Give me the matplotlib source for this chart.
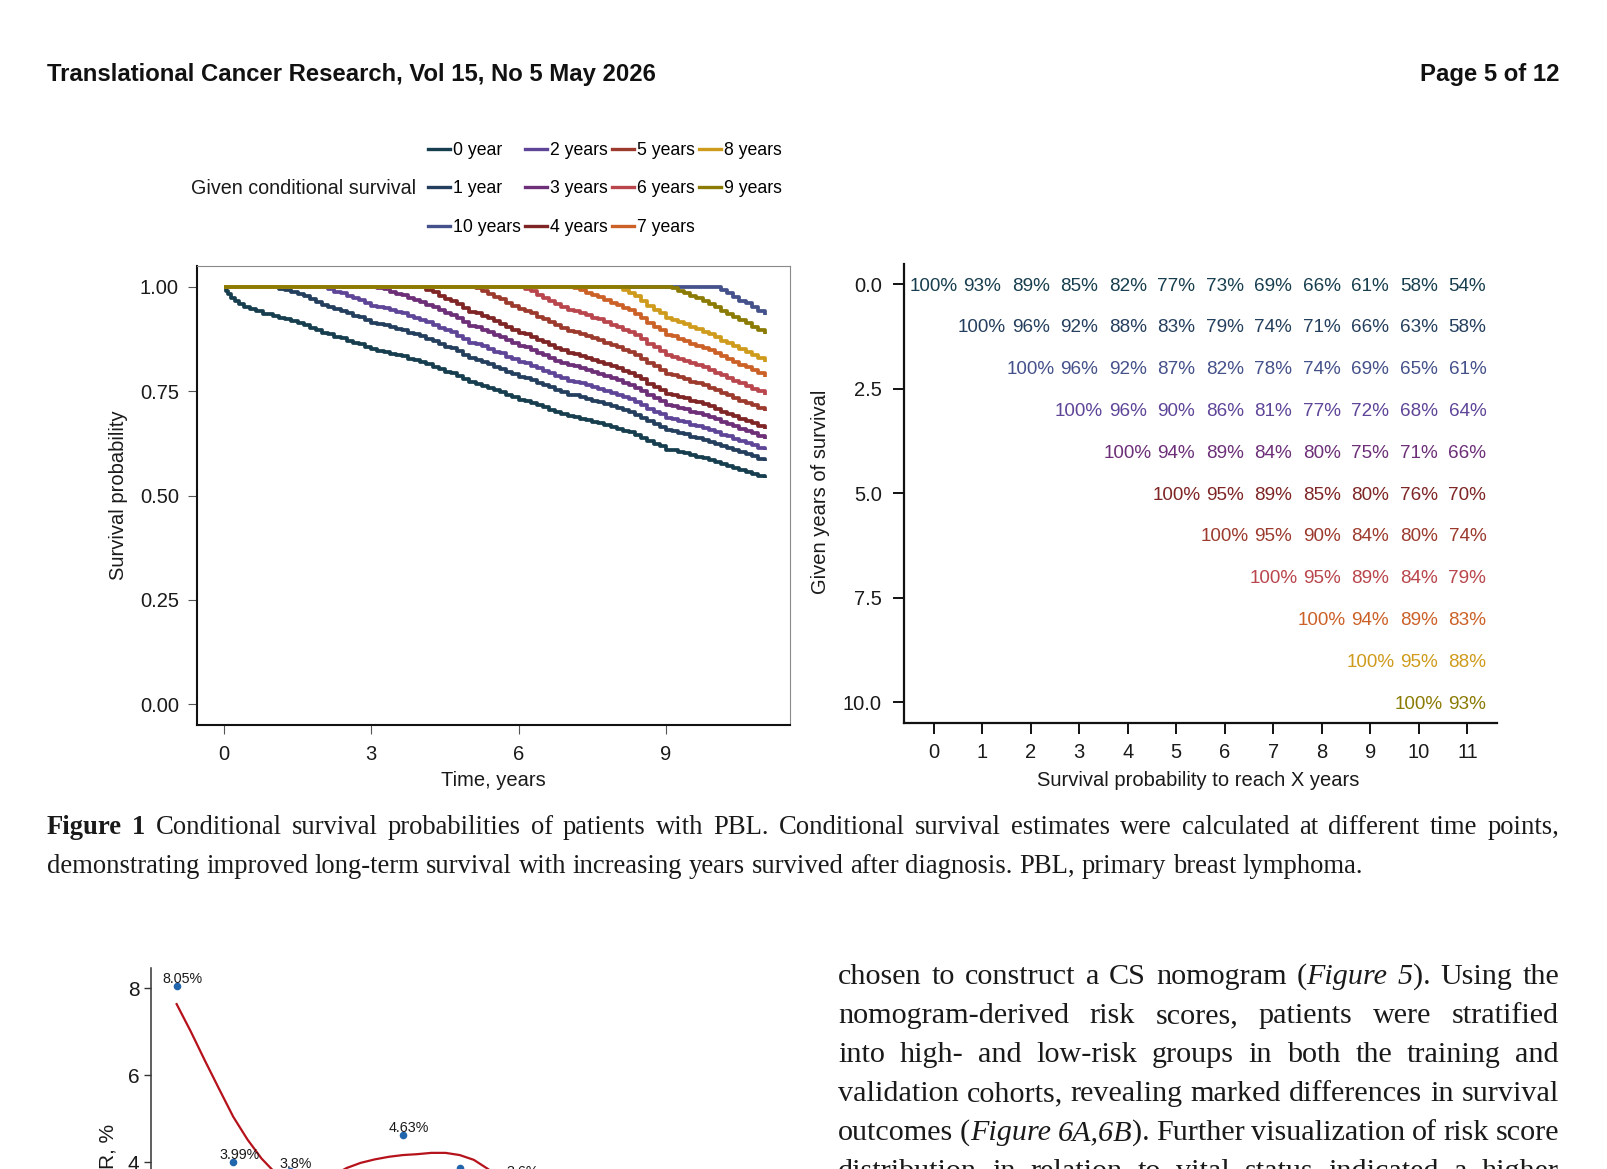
import numpy as np
import matplotlib
matplotlib.use('Agg')
import matplotlib.pyplot as plt
from matplotlib.lines import Line2D

W, H, DPI = 1607, 1169, 100

# ---------------- data ----------------
base_time = [0.00, 0.04, 0.08, 0.14, 0.22, 0.30, 0.40, 0.52, 0.65, 0.80, 0.90, 1.00,
             1.125, 1.25, 1.375, 1.50, 1.625, 1.75, 1.875, 2.00,
             2.125, 2.25, 2.375, 2.50, 2.625, 2.75, 2.875, 3.00,
             3.125, 3.25, 3.375, 3.50, 3.625, 3.75, 3.875, 4.00,
             4.125, 4.25, 4.375, 4.50, 4.625, 4.75, 4.875, 5.00,
             5.125, 5.25, 5.375, 5.50, 5.625, 5.75, 5.875, 6.00,
             6.125, 6.25, 6.375, 6.50, 6.625, 6.75, 6.875, 7.00,
             7.125, 7.25, 7.375, 7.50, 7.625, 7.75, 7.875, 8.00,
             8.125, 8.25, 8.375, 8.50, 8.625, 8.75, 8.875, 9.00,
             9.125, 9.25, 9.375, 9.50, 9.625, 9.75, 9.875, 10.00,
             10.125, 10.25, 10.375, 10.50, 10.625, 10.75, 10.875, 11.03]
base_surv = [1.000, 0.990, 0.982, 0.973, 0.965, 0.958, 0.952, 0.946, 0.941, 0.936, 0.934, 0.930,
             0.926, 0.923, 0.918, 0.913, 0.909, 0.902, 0.897, 0.890,
             0.886, 0.880, 0.877, 0.871, 0.866, 0.862, 0.856, 0.850,
             0.847, 0.845, 0.840, 0.836, 0.834, 0.828, 0.824, 0.820,
             0.814, 0.809, 0.803, 0.797, 0.793, 0.786, 0.778, 0.771,
             0.768, 0.763, 0.758, 0.752, 0.748, 0.741, 0.736, 0.730,
             0.727, 0.722, 0.716, 0.711, 0.706, 0.700, 0.695, 0.690,
             0.688, 0.684, 0.680, 0.676, 0.673, 0.668, 0.664, 0.660,
             0.655, 0.651, 0.645, 0.638, 0.630, 0.624, 0.618, 0.610,
             0.608, 0.604, 0.601, 0.596, 0.593, 0.589, 0.585, 0.580,
             0.575, 0.571, 0.566, 0.561, 0.557, 0.552, 0.547, 0.541]

given_years = [0, 1, 10, 2, 3, 4, 5, 6, 7, 8, 9]
given_labels = ['0 year', '1 year', '10 years', '2 years', '3 years', '4 years',
                '5 years', '6 years', '7 years', '8 years', '9 years']
palette = ['#173e4e', '#243f5e', '#44518a', '#5e4598', '#6c2f78', '#7f2525',
           '#9c3a2e', '#b9464c', '#cc6128', '#cf9b1c', '#8b7b05']

cs_table = [
    [100, 93, 89, 85, 82, 77, 73, 69, 66, 61, 58, 54],
    [100, 96, 92, 88, 83, 79, 74, 71, 66, 63, 58],
    [100, 96, 92, 87, 82, 78, 74, 69, 65, 61],
    [100, 96, 90, 86, 81, 77, 72, 68, 64],
    [100, 94, 89, 84, 80, 75, 71, 66],
    [100, 95, 89, 85, 80, 76, 70],
    [100, 95, 90, 84, 80, 74],
    [100, 95, 89, 84, 79],
    [100, 94, 89, 83],
    [100, 95, 88],
    [100, 93],
]
left_xticks = [0, 3, 6, 9]
left_yticks = [0.00, 0.25, 0.50, 0.75, 1.00]
right_xticks = list(range(12))
right_yticks = [0.0, 2.5, 5.0, 7.5, 10.0]

# bottom (partially visible) chart
hr_x = [1, 2, 3, 4, 5, 6, 7]
hr_y = [8.05, 3.99, 3.80, 3.20, 4.63, 3.86, 3.60]
hr_labels = ['8.05%', '3.99%', '3.8%', '3.2%', '4.63%', '', '3.6%']
smooth_x = [1.0, 1.25, 1.5, 1.75, 2.0, 2.25, 2.5, 2.75, 3.0, 3.25, 3.5, 3.75, 4.0,
            4.25, 4.5, 4.75, 5.0, 5.25, 5.5, 5.75, 6.0, 6.25, 6.5, 6.75, 7.0]
smooth_y = [7.63, 7.00, 6.33, 5.68, 5.04, 4.52, 4.08, 3.74, 3.55, 3.48, 3.53, 3.68, 3.86,
            3.98, 4.06, 4.12, 4.16, 4.18, 4.21, 4.21, 4.16, 4.05, 3.84, 3.60, 3.40]
hr_yticks = [0, 2, 4, 6, 8]

header_left = 'Translational Cancer Research, Vol 15, No 5 May 2026'
header_right = 'Page 5 of 12'
caption_lines = [
    '^Figure 1^ Conditional survival probabilities of patients with PBL. Conditional survival estimates were calculated at different time points,',
    'demonstrating improved long-term survival with increasing years survived after diagnosis. PBL, primary breast lymphoma.',
]
body_lines = [
    'chosen to construct a CS nomogram (_Figure 5_). Using the',
    'nomogram-derived risk scores, patients were stratified',
    'into high- and low-risk groups in both the training and',
    'validation cohorts, revealing marked differences in survival',
    'outcomes (_Figure 6A,6B_). Further visualization of risk score',
    'distribution in relation to vital status indicated a higher',
]

# ---------------- figure ----------------
plt.rcParams['font.family'] = ['Liberation Sans', 'DejaVu Sans']
SERIF = ['Liberation Serif', 'DejaVu Serif']
fig = plt.figure(figsize=(W / DPI, H / DPI), dpi=DPI)
fig.patch.set_facecolor('white')


def fx(x):
    return x / W


def fy(y):
    return 1 - y / H


def px_axes(l, t, r, b):
    return fig.add_axes([l / W, 1 - b / H, (r - l) / W, (b - t) / H])


TXT = '#1a1a1a'

# ---- left KM panel ----
ax1 = px_axes(197, 266, 790, 725)
bt = np.array(base_time)
bs = np.array(base_surv)
for k, lab, col in zip(given_years, given_labels, palette):
    sk = bs[bt == k][0]
    sel = bt >= k
    tt = np.concatenate([[0.0], bt[sel]])
    ss = np.concatenate([[1.0], bs[sel] / sk])
    ax1.plot(tt, ss, drawstyle='steps-post', color=col, lw=2.7,
             solid_joinstyle='round', solid_capstyle='butt')
ax1.set_xlim(-0.55, 11.53)
ax1.set_ylim(-0.05, 1.05)
ax1.set_xticks(left_xticks)
ax1.set_xticklabels([str(v) for v in left_xticks])
ax1.set_yticks(left_yticks)
ax1.set_yticklabels([f'{v:.2f}' for v in left_yticks])
for s in ['left', 'bottom']:
    ax1.spines[s].set_color('#111111')
    ax1.spines[s].set_linewidth(1.5)
for s in ['top', 'right']:
    ax1.spines[s].set_color('#8a8a8a')
    ax1.spines[s].set_linewidth(0.8)
ax1.tick_params(length=6.5, width=0.8, color='#555555', labelsize=14.5,
                labelcolor=TXT)
ax1.tick_params(axis='x', pad=8)
ax1.tick_params(axis='y', pad=6.5)

fig.text(fx(119), fy(495), 'Survival probability', rotation=90, ha='center',
         va='center', fontsize=14.5, color=TXT)
fig.text(fx(493), fy(781), 'Time, years', ha='center', va='center',
         fontsize=14.5, color=TXT)

# legend
handles = [Line2D([0], [0], color=c, lw=2.4) for c in palette]
fig.legend(handles, given_labels, ncol=4, loc='upper left',
           bbox_to_anchor=(fx(428), fy(142)), frameon=False, fontsize=12.7,
           handlelength=1.25, handletextpad=0.18, columnspacing=0.22,
           labelspacing=1.21, borderpad=0, borderaxespad=0)
fig.text(fx(416), fy(188), 'Given conditional survival', ha='right',
         va='center', fontsize=14.2, color=TXT)

# ---- right table panel ----
ax2 = px_axes(904, 264, 1497, 722.5)
for k, row in enumerate(cs_table):
    for j, v in enumerate(row):
        ax2.text(k + j, k, f'{v}%', ha='center', va='center_baseline',
                 color=palette[k], fontsize=13.6)
ax2.set_xlim(-0.61, 11.61)
ax2.set_ylim(10.49, -0.48)
ax2.set_xticks(right_xticks)
ax2.set_xticklabels([str(v) for v in right_xticks])
ax2.set_yticks(right_yticks)
ax2.set_yticklabels([f'{v:.1f}' for v in right_yticks])
for s in ['top', 'right']:
    ax2.spines[s].set_visible(False)
for s in ['left', 'bottom']:
    ax2.spines[s].set_color('#111111')
    ax2.spines[s].set_linewidth(1.6)
ax2.tick_params(length=8, width=1.4, color='#111111', labelsize=14.5,
                labelcolor=TXT)
ax2.tick_params(axis='x', pad=7)
ax2.tick_params(axis='y', pad=8)
fig.text(fx(821), fy(492), 'Given years of survival', rotation=90,
         ha='center', va='center', fontsize=14.5, color=TXT)
fig.text(fx(1198), fy(781), 'Survival probability to reach X years',
         ha='center', va='center', fontsize=14.5, color=TXT)

# ---- bottom partial chart ----
ax3 = px_axes(150.6, 968, 150.6 + (10.5 - 0.54) * 56.6, 988 + 8 * 43.5)
ax3.set_xlim(0.54, 10.5)
ax3.set_ylim(0, 8.46)
ax3.plot(smooth_x, smooth_y, color='#b5121b', lw=1.6, zorder=2)
ax3.scatter(hr_x, hr_y, s=30, color='#2166ac', zorder=3, linewidths=0)
for x, y, lab in zip(hr_x, hr_y, hr_labels):
    if lab:
        ax3.annotate(lab, (x, y), xytext=(4.5, 5), textcoords='offset points',
                     ha='center', va='center', fontsize=10.3, color=TXT)
ax3.set_yticks(hr_yticks)
ax3.set_yticklabels([str(v) for v in hr_yticks])
ax3.set_xticks([])
for s in ['top', 'right', 'bottom']:
    ax3.spines[s].set_visible(False)
ax3.spines['left'].set_color('#333333')
ax3.spines['left'].set_linewidth(1.1)
ax3.tick_params(axis='y', length=5, width=1.0, color='#333333',
                labelsize=15, labelcolor=TXT, pad=3)
fig.text(fx(108), fy(1124), 'CSR, %', rotation=90, rotation_mode='anchor',
         ha='right', va='center', fontsize=15, color=TXT)

# ---- header ----
fig.text(fx(47), fy(75), header_left, ha='left', va='center', fontsize=17.2,
         fontweight='bold', color='#111111')
fig.text(fx(1559), fy(75), header_right, ha='right', va='center',
         fontsize=17.2, fontweight='bold', color='#111111')

# ---- justified serif text ----
renderer = fig.canvas.get_renderer()


def parse(line):
    style = 'n'
    chars = []
    for ch in line:
        if ch == '_':
            style = 'n' if style == 'i' else 'i'
            continue
        if ch == '^':
            style = 'n' if style == 'b' else 'b'
            continue
        chars.append((ch, style))
    words, cur = [], []
    for ch, st in chars:
        if ch == ' ':
            if cur:
                words.append(cur)
            cur = []
        else:
            cur.append((ch, st))
    if cur:
        words.append(cur)
    out = []
    for w in words:
        segs = []
        for ch, st in w:
            if segs and segs[-1][1] == st:
                segs[-1][0] += ch
            else:
                segs.append([ch, st])
        out.append(segs)
    return out


def make_text(txt, st, size):
    return fig.text(0, 0, txt, fontsize=size, family=SERIF,
                    fontstyle='italic' if st == 'i' else 'normal',
                    fontweight='bold' if st == 'b' else 'normal',
                    va='baseline', ha='left', color='#1a1a1a')


def width_of(t):
    return t.get_window_extent(renderer=renderer).width


def draw_line(line, y, x0, x1, size, justify=True):
    words = parse(line)
    arts, widths = [], []
    for w in words:
        segs, tot = [], 0.0
        for txt, st in w:
            t = make_text(txt, st, size)
            ww = width_of(t)
            segs.append((t, ww))
            tot += ww
        arts.append(segs)
        widths.append(tot)
    tmp1 = make_text('a a', 'n', size)
    tmp2 = make_text('aa', 'n', size)
    space = width_of(tmp1) - width_of(tmp2)
    tmp1.remove()
    tmp2.remove()
    if justify and len(words) > 1:
        gap = (x1 - x0 - sum(widths)) / (len(words) - 1)
    else:
        gap = space
    x = x0
    for segs, tot in zip(arts, widths):
        xx = x
        for t, ww in segs:
            t.set_position((fx(xx), fy(y)))
            xx += ww
        x += tot + gap


probe = make_text(caption_lines[1], 'n', 20)
nat = width_of(probe)
probe.remove()
cap_size = 20 * (1367 - 47) / nat

draw_line(caption_lines[0], 834, 47, 1559, cap_size, justify=True)
draw_line(caption_lines[1], 873, 47, 1559, cap_size, justify=False)

body_size = cap_size * 1.13
body_base = [984, 1023, 1062, 1101, 1140, 1179]
for line, yb in zip(body_lines, body_base):
    draw_line(line, yb, 838, 1559, body_size, justify=True)

fig.savefig('out.png', dpi=DPI, facecolor='white')
